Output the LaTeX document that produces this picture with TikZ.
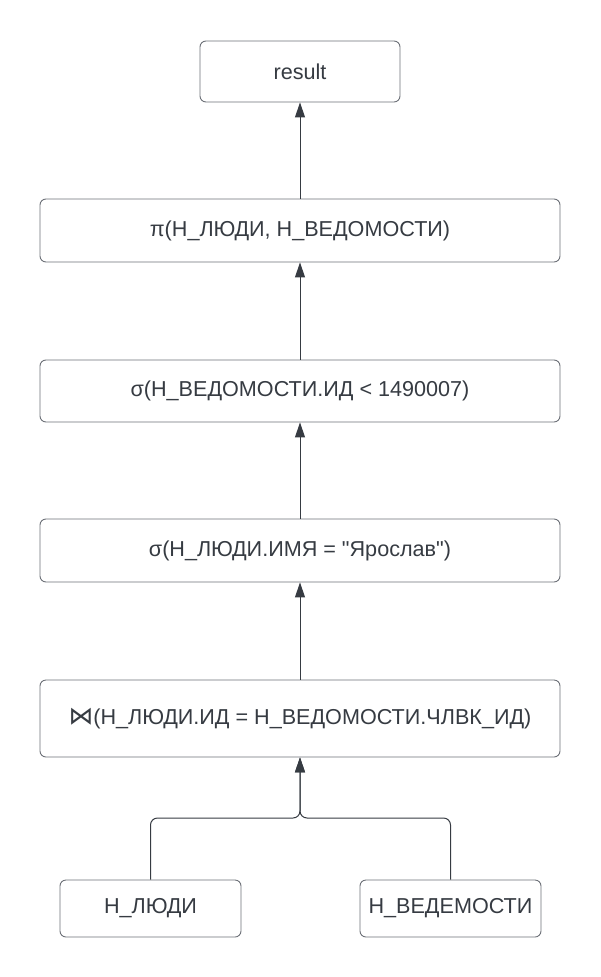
\documentclass[tikz,border=0pt]{standalone}
\usepackage{fontspec}
\setmainfont{Liberation Sans}
\newfontfamily\bowfont[Scale=1.15]{DejaVu Sans}
\usetikzlibrary{arrows.meta}
\usetikzlibrary{positioning}
\definecolor{boxline}{HTML}{6C7077}
\definecolor{ink}{HTML}{363B42}
\tikzstyle{box} = [draw=boxline,rounded corners=6pt,line width=0.9pt,fill=white,text=ink,font=\fontsize{21.6}{25}\selectfont,inner sep=0pt]
\tikzstyle{arrow} = [draw=ink,line width=1pt,-{Triangle[length=15pt,width=10pt]}]

\begin{document}
\begin{tikzpicture}[x=1pt,y=-1pt]

    \useasboundingbox (0,0) rectangle (600,977); % keeps the page size

    \node[box,minimum width=200pt,minimum height=61pt] (result) at (300,71.5) {result};
    \node[box,minimum width=520pt,minimum height=63pt] (proj) at (300,230.5) {π(Н\_ЛЮДИ, Н\_ВЕДОМОСТИ)};
    \node[box,minimum width=520pt,minimum height=62pt] (selid) at (300,391) {σ(Н\_ВЕДОМОСТИ.ИД < 1490007)};
    \node[box,minimum width=520pt,minimum height=63pt] (selname) at (300,550.5) {σ(Н\_ЛЮДИ.ИМЯ = \textquotedbl Ярослав\textquotedbl)};
    \node[box,minimum width=520pt,minimum height=77pt] (join) at (300,718.5) {{\bowfont ⋈}(Н\_ЛЮДИ.ИД = Н\_ВЕДОМОСТИ.ЧЛВК\_ИД)};
    \node[box,minimum width=181pt,minimum height=57pt] (people) at (150.5,908.5) {Н\_ЛЮДИ};
    \node[box,minimum width=181pt,minimum height=57pt] (ved) at (450.5,908.5) {Н\_ВЕДЕМОСТИ};

    \coordinate (fork) at (300,818);

    % arrows going up the tree
    \draw [arrow] (proj) -- (result);
    \draw [arrow] (selid) -- (proj);
    \draw [arrow] (selname) -- (selid);
    \draw [arrow] (join) -- (selname);
    \draw [arrow,rounded corners=7pt] (people.north) |- (fork) -- (join.south);
    \draw [arrow,rounded corners=7pt] (ved.north) |- (fork) -- (join.south);

\end{tikzpicture}
\end{document}
